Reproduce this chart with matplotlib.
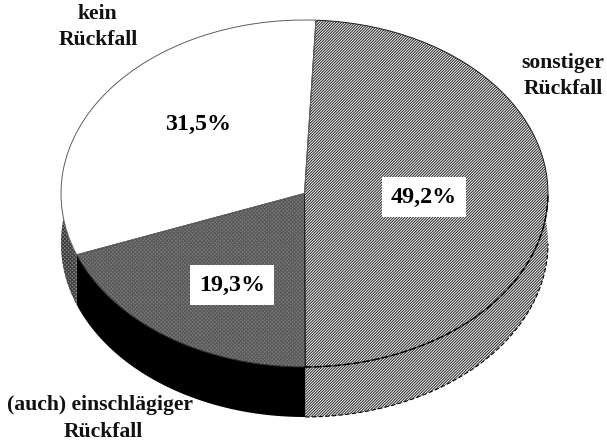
import matplotlib
matplotlib.use('Agg')
import matplotlib.pyplot as plt
import numpy as np

# Anteile in Prozent, im Uhrzeigersinn ab oben
labels = ['sonstiger', 'einschlaegig', 'kein']
values = [49.2, 19.3, 31.5]
value_texts = ['49,2%', '19,3%', '31,5%']
top_colors = ['white', '#7e7e7e', 'white']
top_hatches = ['/' * 12, 'x' * 9, None]
hatch_colors = ['#2a2a2a', '#585858', 'white']
wall_colors = ['white', 'black', '#8a8a8a']
wall_hatches = ['/' * 12, None, 'x' * 9]
wall_edges = ['#2a2a2a', 'black', '#3a3a3a']

W, H = 607, 441
CX, CY, RX, RY = 304.5, 193.5, 243.5, 173.5
DEPTH = 50 / RY
START = 2.7  # Grad im Uhrzeigersinn ab oben

plt.rcParams['font.family'] = ['Liberation Serif', 'DejaVu Serif']
plt.rcParams['hatch.linewidth'] = 0.75


def px(x, y):
    return (x - CX) / RX, (CY - y) / RY


def arc(a0, a1, drop=0.0):
    t = np.radians(np.linspace(a0, a1, 200))
    return np.sin(t), np.cos(t) - drop


fig = plt.figure(figsize=(W / 100, H / 100), dpi=100)
ax = fig.add_axes([0, 0, 1, 1])

# Seitenwand zuerst, die Oberseite deckt den Rest ab
edges = START + np.concatenate([[0], np.cumsum(values)]) * 3.6
for i in range(len(values)):
    x1, y1 = arc(edges[i], edges[i + 1])
    x2, y2 = arc(edges[i + 1], edges[i], DEPTH)
    ax.fill(np.concatenate([x1, x2]), np.concatenate([y1, y2]),
            facecolor=wall_colors[i], edgecolor=wall_edges[i],
            hatch=wall_hatches[i], linewidth=0)

# Oberseite: erst Flaechen, dann Kontur
wedges, _ = ax.pie(values, startangle=90 - START, counterclock=False, colors=top_colors,
                   wedgeprops={'linewidth': 0})
for w, h, c in zip(wedges, top_hatches, hatch_colors):
    w.set_edgecolor(c)
    w.set_hatch(h)
outline, _ = ax.pie(values, startangle=90 - START, counterclock=False,
                    wedgeprops={'facecolor': 'none', 'edgecolor': '#222222', 'linewidth': 0.7})
outline[2].set_edgecolor('#666666')

# Aussenkontur der Wand
x, y = arc(edges[1], 90, DEPTH)
ax.plot(x, y, color='black', lw=0.8, ls=(0, (4, 2)))
x, y = arc(180, 90)
ax.plot(x, y, color='black', lw=1.0, ls=(0, (5, 2)))

ax.set_aspect('auto')
ax.set_xlim(px(0, 0)[0], px(W, 0)[0])
ax.set_ylim(px(0, H)[1], px(0, 0)[1])
ax.axis('off')

# Prozentwerte
box = dict(boxstyle='square,pad=0.38', facecolor='white', edgecolor='none')
ax.text(*px(424, 197), value_texts[0], fontsize=17.3, fontweight='bold', ha='center', va='center', bbox=box)
ax.text(*px(232, 285), value_texts[1], fontsize=17.3, fontweight='bold', ha='center', va='center', bbox=box)
ax.text(*px(198, 124), value_texts[2], fontsize=17.3, fontweight='bold', ha='center', va='center')

# Beschriftung
for s, xp, yp in [('kein', 97, 14), ('Rückfall', 98, 40), ('sonstiger', 563, 63), ('Rückfall', 563, 89),
                  ('(auch) einschlägiger', 100, 405), ('Rückfall', 103, 432)]:
    ax.text(*px(xp, yp), s, fontsize=15.6, fontweight='bold', ha='center', va='center', color='#111111')

fig.savefig('out.png', dpi=100, facecolor='white')
